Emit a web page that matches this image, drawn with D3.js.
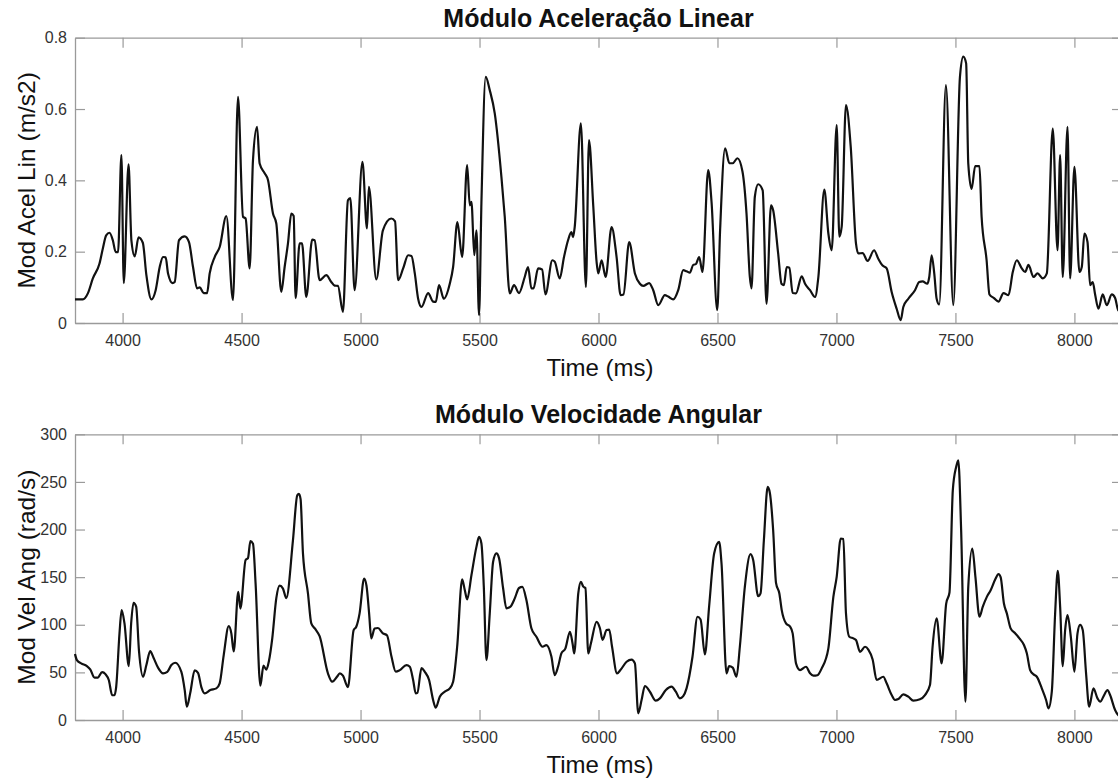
<!DOCTYPE html>
<html>
<head>
<meta charset="utf-8">
<script src="https://cdn.jsdelivr.net/npm/d3@7"></script>
<style>
  body { margin: 0; background: #fff; }
  svg { display: block; font-family: "Liberation Sans", Arial, sans-serif; }
</style>
</head>
<body>
<div id="chart"></div>
<script>
// time (ms) and |linear acceleration| (m/s2)
var accTime = [3800,3833,3854,3875,3903,3917,3931,3945,3959,3971,3981,3995,4005,4025,4037,4051,4067,4085,4100,4121,
  4139,4156,4170,4181,4191,4210,4219,4237,4261,4279,4296,4313,4324,4341,4355,4366,4387,4408,4436,4464,
  4485,4506,4517,4534,4548,4565,4576,4597,4611,4632,4646,4667,4681,4695,4709,4719,4727,4744,4754,4772,
  4797,4807,4828,4856,4877,4891,4905,4926,4947,4957,4975,5008,5027,5035,5066,5094,5129,5145,5158,5179,
  5200,5214,5228,5242,5256,5284,5305,5316,5330,5350,5375,5389,5407,5427,5448,5459,5466,5478,5487,5498,
  5508,5526,5543,5564,5592,5606,5627,5645,5666,5690,5704,5718,5727,5746,5763,5777,5806,5816,5837,5855,
  5872,5886,5893,5900,5926,5947,5960,5978,5992,5999,6013,6030,6055,6076,6093,6105,6129,6153,6174,6188,
  6213,6230,6251,6279,6293,6314,6335,6356,6370,6384,6398,6409,6423,6437,6461,6475,6499,6511,6532,6550,
  6564,6584,6605,6622,6636,6643,6657,6671,6690,6706,6725,6734,6755,6769,6779,6791,6802,6816,6830,6854,
  6868,6889,6910,6924,6949,6966,6980,7001,7012,7022,7040,7060,7082,7092,7110,7131,7158,7176,7194,7211,
  7232,7253,7270,7281,7302,7330,7348,7362,7382,7390,7400,7411,7421,7432,7460,7491,7519,7533,7545,7554,
  7568,7583,7601,7610,7631,7643,7662,7681,7702,7723,7741,7758,7779,7793,7807,7828,7845,7867,7884,7909,
  7929,7940,7951,7971,7982,8000,8021,8031,8042,8055,8066,8077,8087,8101,8119,8136,8157,8171,8184,8200];
var accLin = [0.066,0.066,0.083,0.125,0.167,0.209,0.246,0.253,0.232,0.199,0.199,0.471,0.112,0.445,0.232,0.187,0.240,0.225,0.134,0.066,
  0.092,0.157,0.185,0.184,0.139,0.112,0.115,0.232,0.243,0.227,0.157,0.097,0.100,0.084,0.084,0.139,0.185,0.213,0.300,0.064,
  0.634,0.298,0.293,0.153,0.457,0.550,0.447,0.420,0.401,0.307,0.279,0.087,0.157,0.223,0.307,0.300,0.070,0.223,0.223,0.073,
  0.234,0.232,0.120,0.134,0.115,0.105,0.104,0.031,0.344,0.350,0.092,0.452,0.265,0.382,0.122,0.260,0.293,0.285,0.120,0.153,
  0.190,0.188,0.139,0.068,0.045,0.084,0.060,0.059,0.106,0.068,0.110,0.157,0.283,0.185,0.443,0.330,0.340,0.190,0.260,0.022,
  0.337,0.690,0.653,0.588,0.410,0.298,0.083,0.106,0.084,0.129,0.157,0.097,0.097,0.153,0.150,0.080,0.176,0.172,0.125,0.185,
  0.232,0.255,0.241,0.269,0.560,0.101,0.513,0.328,0.171,0.139,0.176,0.129,0.269,0.185,0.078,0.080,0.227,0.139,0.110,0.104,
  0.112,0.092,0.050,0.078,0.074,0.066,0.092,0.148,0.145,0.141,0.163,0.165,0.185,0.143,0.429,0.340,0.036,0.260,0.490,0.448,
  0.448,0.462,0.425,0.307,0.129,0.097,0.354,0.389,0.372,0.054,0.330,0.316,0.195,0.110,0.106,0.157,0.155,0.084,0.083,0.131,
  0.110,0.092,0.073,0.129,0.374,0.251,0.204,0.555,0.242,0.270,0.611,0.494,0.223,0.195,0.196,0.174,0.204,0.180,0.161,0.153,
  0.087,0.040,0.008,0.045,0.068,0.092,0.115,0.117,0.110,0.129,0.190,0.139,0.068,0.052,0.667,0.050,0.690,0.747,0.728,0.447,
  0.376,0.440,0.440,0.298,0.176,0.080,0.070,0.060,0.084,0.078,0.143,0.176,0.153,0.143,0.163,0.129,0.139,0.125,0.139,0.545,
  0.204,0.471,0.129,0.550,0.125,0.438,0.143,0.157,0.251,0.227,0.106,0.115,0.080,0.040,0.080,0.050,0.080,0.070,0.036,0.030];

// time (ms) and |angular velocity| (rad/s)
var velTime = [3800,3808,3826,3850,3864,3882,3896,3914,3928,3942,3956,3966,3973,3987,3996,4008,4026,4036,4046,4057,
  4069,4086,4100,4116,4130,4149,4170,4188,4205,4221,4247,4261,4270,4284,4303,4317,4331,4345,4369,4394,
  4408,4425,4446,4457,4467,4486,4495,4517,4527,4537,4548,4559,4579,4592,4604,4615,4629,4646,4660,4674,
  4688,4716,4734,4741,4748,4758,4779,4793,4811,4828,4863,4881,4901,4913,4926,4947,4971,4982,4996,5015,
  5025,5036,5045,5059,5073,5094,5111,5130,5148,5165,5193,5207,5221,5232,5239,5256,5270,5288,5305,5316,
  5333,5354,5375,5389,5406,5427,5438,5448,5466,5487,5498,5508,5518,5529,5543,5557,5571,5582,5599,5613,
  5630,5648,5666,5680,5697,5718,5739,5765,5781,5802,5816,5830,5844,5861,5880,5891,5898,5915,5926,5936,
  5945,5957,5968,5992,6006,6017,6034,6045,6057,6078,6092,6118,6139,6153,6167,6181,6195,6216,6241,6258,
  6283,6307,6325,6342,6356,6370,6395,6416,6429,6447,6465,6486,6507,6517,6538,6549,6564,6580,6594,6615,
  6639,6650,6671,6681,6695,6711,6720,6734,6746,6760,6770,6788,6805,6816,6830,6847,6872,6889,6903,6920,
  6938,6966,6987,7001,7018,7029,7040,7054,7071,7082,7099,7120,7134,7152,7169,7197,7211,7232,7246,7260,
  7281,7302,7323,7351,7372,7393,7404,7421,7442,7461,7475,7489,7503,7512,7524,7542,7554,7571,7584,7601,
  7615,7632,7648,7667,7681,7690,7704,7716,7732,7751,7769,7788,7800,7814,7828,7842,7863,7881,7891,7905,
  7919,7930,7940,7951,7961,7971,7985,8000,8013,8024,8035,8049,8062,8080,8097,8108,8125,8139,8150,8171,
  8184,8200];
var velAng = [69.2,62.9,59.4,56.6,53.2,44.4,44.5,50.3,48.2,42.0,26.2,26.0,34.6,90.9,115.4,101.4,56.6,101.4,123.0,119.0,
  72.3,45.4,57.7,72.3,65.4,55.0,49.0,50.6,57.7,60.1,50.6,31.5,14.0,28.0,52.2,49.6,34.6,28.0,31.5,33.2,
  38.5,68.2,98.6,91.0,72.0,134.6,117.0,168.0,170.0,187.8,185.0,143.0,36.0,57.0,53.0,62.0,85.7,128.0,141.0,138.0,
  128.0,188.8,236.0,237.5,232.0,175.0,133.0,101.4,95.1,88.0,49.0,40.2,45.4,49.0,46.5,34.6,94.4,97.9,112.0,148.6,
  141.0,112.0,85.7,96.0,96.6,91.0,89.0,66.6,50.7,52.4,57.7,56.0,42.0,28.0,28.5,54.5,50.6,42.0,21.0,12.9,
  24.5,29.7,33.2,40.2,76.9,147.6,136.5,126.7,152.0,181.8,192.3,185.3,140.0,62.9,112.0,166.0,174.9,170.0,138.6,117.2,
  119.0,127.7,138.6,139.8,125.9,96.3,87.4,76.9,78.7,66.6,47.2,55.9,69.9,75.2,92.6,80.4,69.9,132.9,145.1,140.0,
  138.6,69.9,80.4,103.1,96.3,84.2,94.4,95.0,76.9,49.0,52.4,61.2,63.5,59.4,7.0,21.0,35.7,29.7,20.3,22.7,
  31.5,35.0,29.7,22.7,25.0,33.2,66.4,108.4,105.6,68.9,119.6,174.9,187.1,164.3,49.0,56.6,55.0,45.4,76.9,139.8,
  174.1,168.0,130.0,133.0,188.8,244.7,238.6,199.3,144.0,132.9,115.4,101.4,98.0,91.0,59.5,52.4,55.9,49.0,46.5,47.0,
  54.2,75.2,129.3,150.3,190.6,190.0,111.9,87.4,85.7,84.0,71.6,76.9,74.0,63.5,42.0,45.4,38.5,26.2,21.0,22.0,
  26.9,24.5,20.3,21.7,26.2,36.7,76.9,106.7,59.5,122.0,133.9,241.3,265.7,272.7,199.3,19.2,140.0,180.1,150.3,108.4,
  119.0,129.3,136.3,147.5,153.2,150.0,122.0,112.0,96.2,91.0,85.7,78.7,70.0,52.4,47.9,45.4,33.2,21.0,12.2,29.7,
  111.9,156.6,119.0,56.6,94.4,110.1,87.4,50.7,91.0,99.8,94.4,49.0,14.0,33.2,22.7,19.2,26.2,31.5,26.2,10.5,
  5.2,3.0];

var timeTicks = [4000, 4500, 5000, 5500, 6000, 6500, 7000, 7500, 8000];
var accTicks = [0, 0.2, 0.4, 0.6, 0.8];
var velTicks = [0, 50, 100, 150, 200, 250, 300];

var width = 1118, height = 778;
var svg = d3.select("#chart").append("svg")
  .attr("width", width)
  .attr("height", height);

var x = d3.scaleLinear().domain([3800, 8200]).range([75, 1122]);

function drawPanel(top, bottom, times, values, yMax, yTicks, title, yLabel) {
  var y = d3.scaleLinear().domain([0, yMax]).range([bottom, top]);
  var g = svg.append("g");
  var tickLen = 10;
  var axisColor = "#9a9a9a";

  // bottom and top axes, ticks pointing in (box on)
  g.append("g")
    .attr("transform", "translate(0," + bottom + ")")
    .call(d3.axisBottom(x).tickValues(timeTicks).tickSizeInner(-tickLen).tickSizeOuter(0)
      .tickPadding(12).tickFormat(d3.format("d")));
  g.append("g")
    .attr("transform", "translate(0," + top + ")")
    .call(d3.axisTop(x).tickValues(timeTicks).tickSizeInner(-tickLen).tickSizeOuter(0).tickFormat(""));
  // left and right
  g.append("g")
    .attr("transform", "translate(" + x.range()[0] + ",0)")
    .call(d3.axisLeft(y).tickValues(yTicks).tickSizeInner(-tickLen).tickSizeOuter(0).tickPadding(8)
      .tickFormat(function(d) { return d3.format("")(d); }));
  g.append("g")
    .attr("transform", "translate(" + x.range()[1] + ",0)")
    .call(d3.axisRight(y).tickValues(yTicks).tickSizeInner(-tickLen).tickSizeOuter(0).tickFormat(""));

  g.selectAll(".domain").attr("stroke", axisColor).attr("stroke-width", 1.3);
  g.selectAll(".tick line").attr("stroke", axisColor).attr("stroke-width", 1.2);
  g.selectAll(".tick text")
    .attr("fill", "#333")
    .style("font-size", "16px")
    .style("font-family", "'Liberation Sans', Arial, sans-serif");

  var line = d3.line()
    .x(function(d) { return x(d[0]); })
    .y(function(d) { return y(d[1]); })
    .curve(d3.curveMonotoneX);

  g.append("path")
    .datum(d3.zip(times, values))
    .attr("d", line)
    .attr("fill", "none")
    .attr("stroke", "#111")
    .attr("stroke-width", 2.2)
    .attr("stroke-linejoin", "round");

  var cx = (75 + 1118) / 2;
  g.append("text")
    .attr("x", cx + 2)
    .attr("y", top - 11)
    .attr("text-anchor", "middle")
    .style("font-size", "25px")
    .style("font-weight", "bold")
    .attr("fill", "#111")
    .text(title);

  g.append("text")
    .attr("x", 600)
    .attr("y", bottom + 53)
    .attr("text-anchor", "middle")
    .style("font-size", "24px")
    .attr("fill", "#111")
    .text("Time (ms)");

  g.append("text")
    .attr("transform", "translate(35," + ((top + bottom) / 2) + ") rotate(-90)")
    .attr("text-anchor", "middle")
    .style("font-size", "24.5px")
    .attr("fill", "#111")
    .text(yLabel);
}

drawPanel(37.7, 323, accTime, accLin, 0.8, accTicks, "Módulo Aceleração Linear", "Mod Acel Lin (m/s2)");
drawPanel(434.3, 720, velTime, velAng, 300, velTicks, "Módulo Velocidade Angular", "Mod Vel Ang (rad/s)");
</script>
</body>
</html>
